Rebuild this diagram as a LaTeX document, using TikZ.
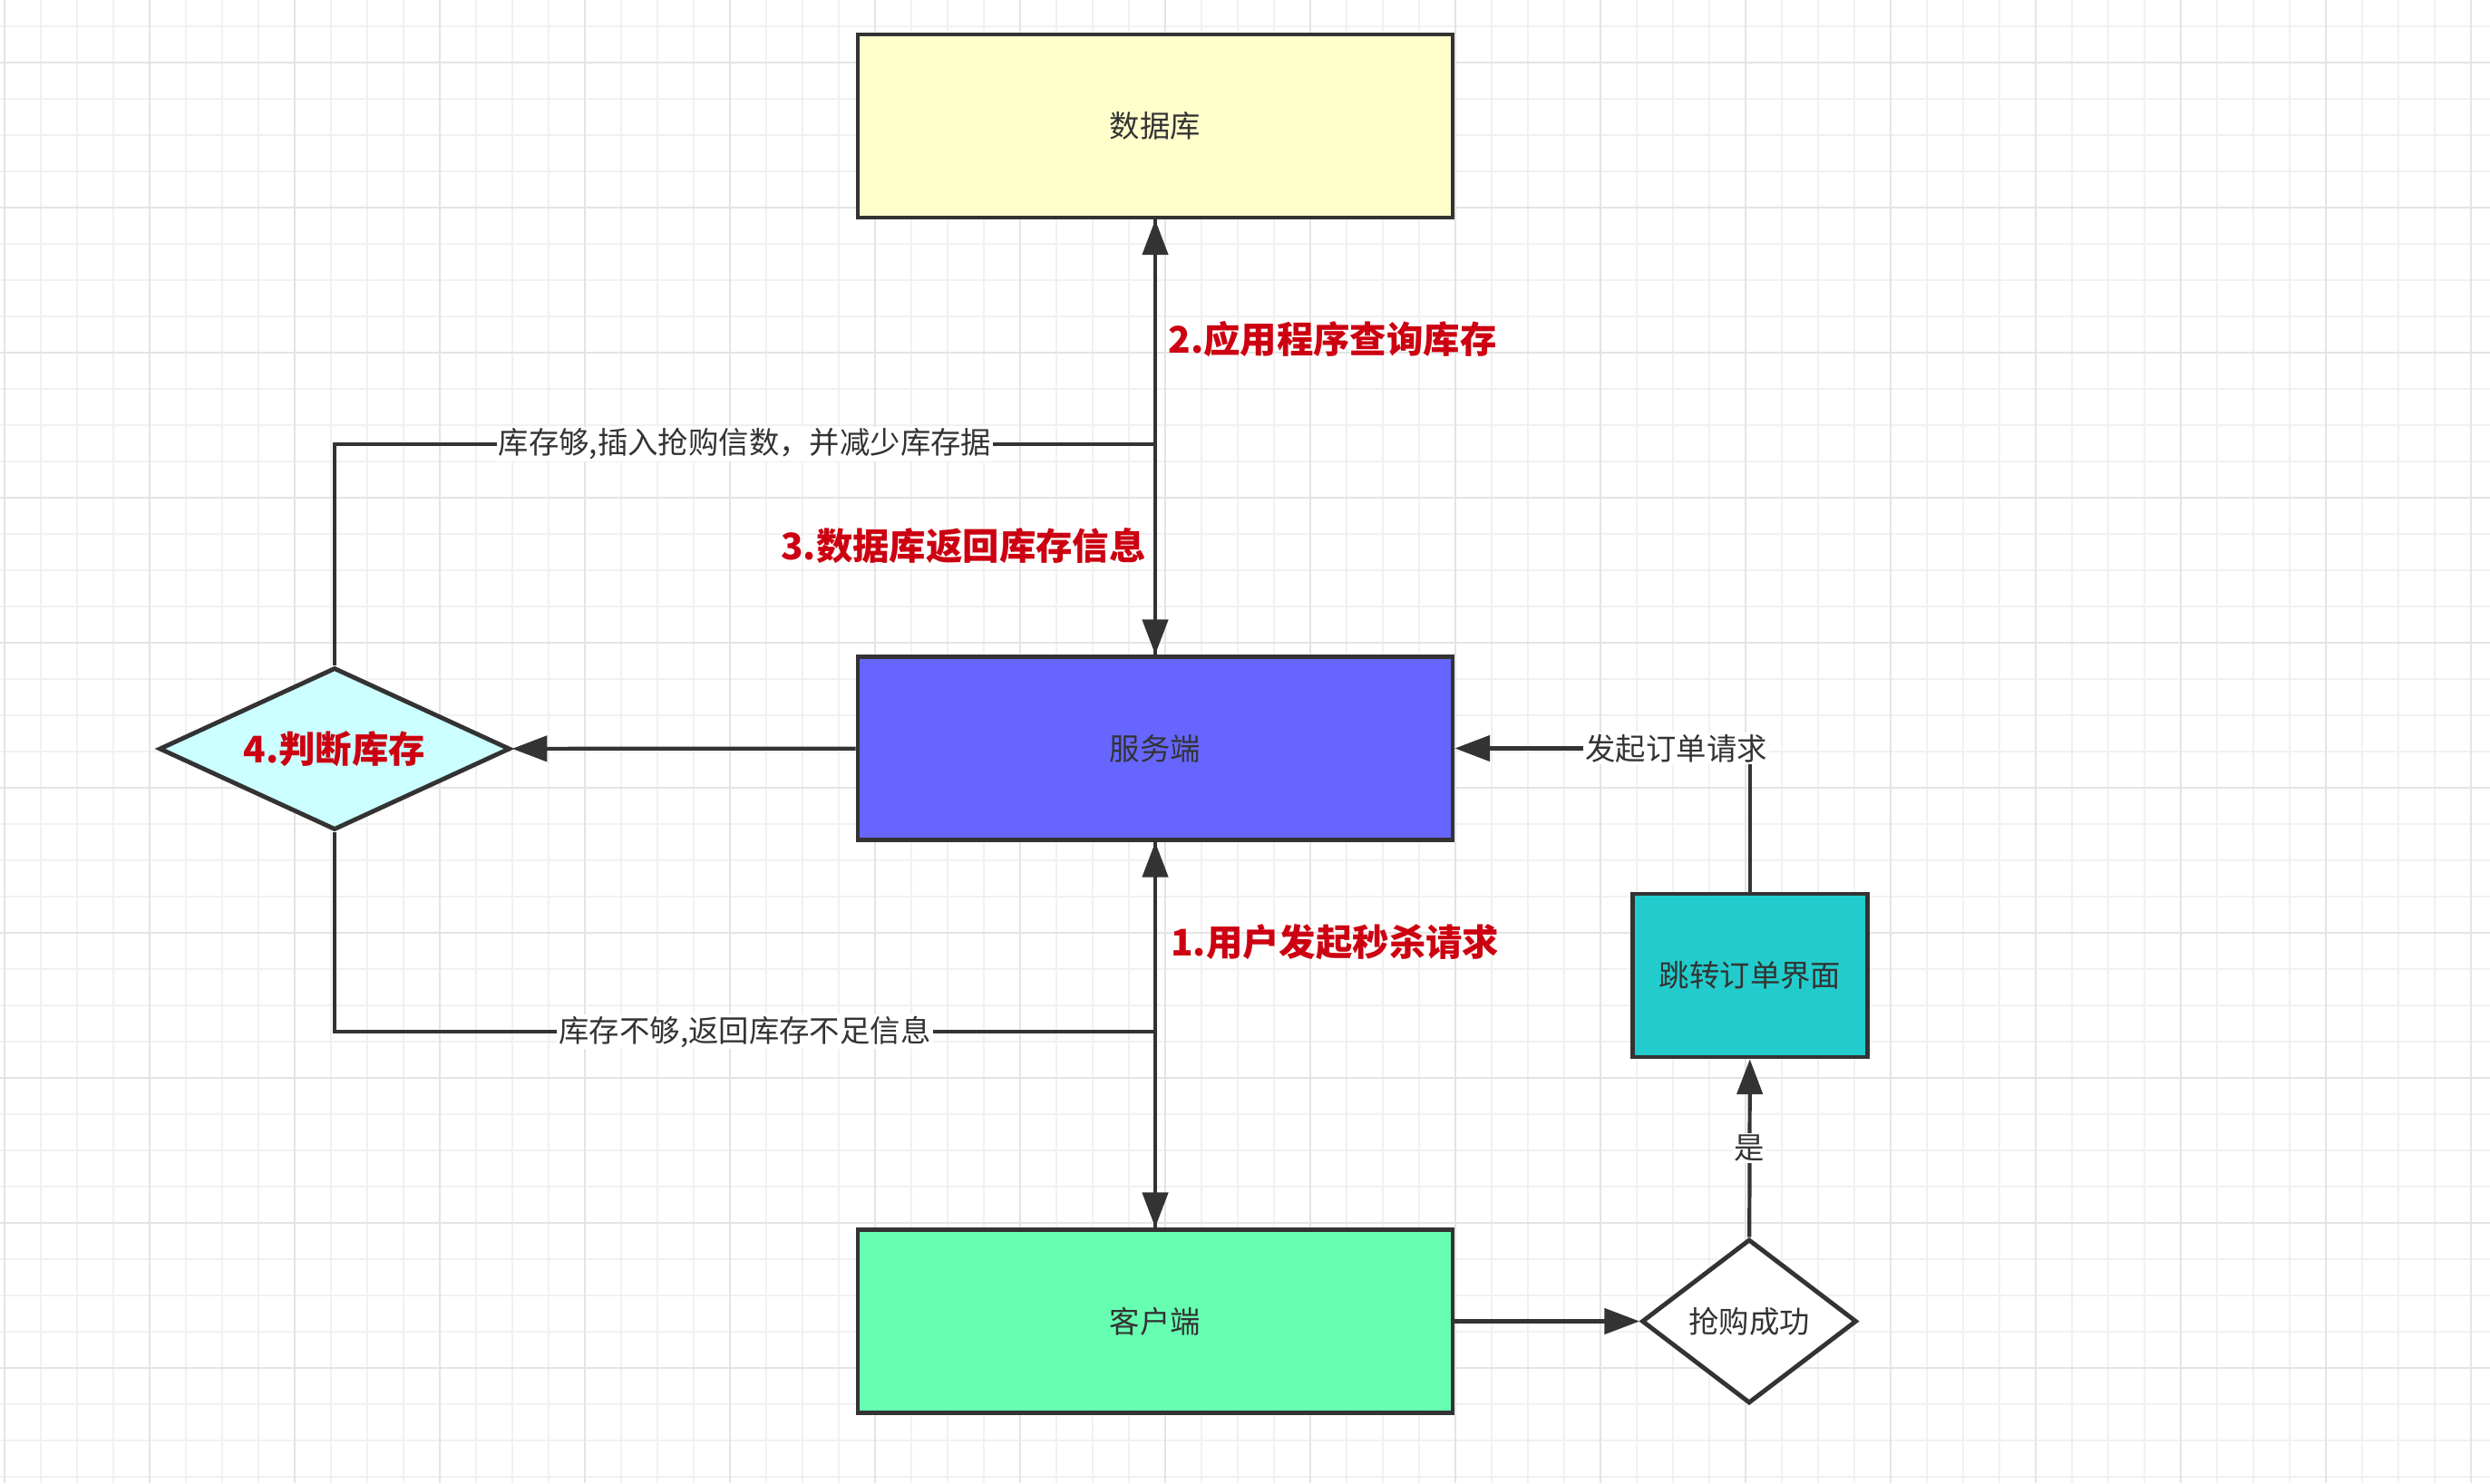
\documentclass[tikz,border=0pt]{standalone}
\usepackage{fontspec}
\setmainfont{Noto Sans CJK SC}
\usetikzlibrary{shapes.geometric,arrows.meta}

\definecolor{ink}{HTML}{333333}
\definecolor{hot}{HTML}{CC0011}
\definecolor{dbyellow}{HTML}{FFFFCC}
\definecolor{srvblue}{HTML}{6666FF}
\definecolor{climint}{HTML}{66FFB2}
\definecolor{judgecyan}{HTML}{CCFFFF}
\definecolor{jumpteal}{HTML}{22CCCC}
\definecolor{gridminor}{HTML}{F1F1F1}
\definecolor{gridmajor}{HTML}{E4E4E4}

\begin{document}
\begin{tikzpicture}[
  block/.style={draw=ink, line width=1.4pt, minimum width=6.56cm, minimum height=2.02cm,
    text=ink, font=\fontsize{9.5}{11}\selectfont},
  judge/.style={diamond, draw=ink, line width=1.4pt, inner sep=0pt,
    text=ink, font=\fontsize{9.5}{11}\selectfont},
  link/.style={draw=ink, line width=1.2pt, -{Triangle[length=11pt,width=8pt]}},
  wire/.style={draw=ink, line width=1.2pt},
  tag/.style={fill=white, inner sep=0.6pt, text=ink, font=\fontsize{9.5}{11}\selectfont},
  redtag/.style={text=hot, inner sep=1pt, font=\fontsize{11.5}{13}\selectfont\bfseries}]
  \useasboundingbox (0,0) rectangle (27.46,16.36);
  \fill[white] (0,0) rectangle (27.46,16.36);
  \draw[gridminor, line width=0.6pt, step=0.4cm, xshift=0.05cm, yshift=0.07cm]
    (-0.05,-0.07) grid (27.41,16.29);
  \draw[gridmajor, line width=0.8pt, step=1.6cm, xshift=0.05cm, yshift=1.27cm]
    (-0.05,-1.27) grid (27.41,15.09);

  \node[block, fill=dbyellow] (db) at (12.74,14.97) {数据库};
  \node[block, fill=srvblue] (server) at (12.74,8.105) {服务端};
  \node[block, fill=climint] (client) at (12.74,1.785) {客户端};
  \node[judge, fill=judgecyan, minimum width=3.87cm, minimum height=1.79cm, aspect=2.2,
    text=hot, font=\fontsize{11.5}{13}\selectfont\bfseries] (check) at (3.69,8.10) {4.判断库存};
  \node[block, fill=jumpteal, minimum width=2.59cm, minimum height=1.80cm] (order) at (19.30,5.60) {跳转订单界面};
  \node[judge, fill=white, minimum width=2.37cm, minimum height=1.81cm, aspect=1.3] (grab) at (19.29,1.785) {抢购成功};
  \coordinate (upjoin) at (12.74,11.46);
  \coordinate (lowjoin) at (12.74,4.98);

  \draw[link] (server) -- (db) node[redtag, pos=0.725, right=2.5pt] {2.应用程序查询库存};
  \draw[link] (db) -- (server) node[redtag, pos=0.749, left=1.3pt] {3.数据库返回库存信息};
  \draw[link] (client) -- (server) node[redtag, pos=0.741, right=3.3pt] {1.用户发起秒杀请求};
  \draw[link] (server) -- (client);
  \draw[link] (server) -- (check);
  \draw[wire] (check) |- (upjoin) node[tag, pos=0.75] {库存够,插入抢购信数，并减少库存据};
  \draw[wire] (check) |- (lowjoin) node[tag, pos=0.75] {库存不够,返回库存不足信息};
  \draw[link] (client) -- (grab);
  \draw[link] (grab) -- (order) node[tag, midway] {是};
  \draw[link] (order) |- (server) node[tag, pos=0.625] {发起订单请求};
\end{tikzpicture}
\end{document}
